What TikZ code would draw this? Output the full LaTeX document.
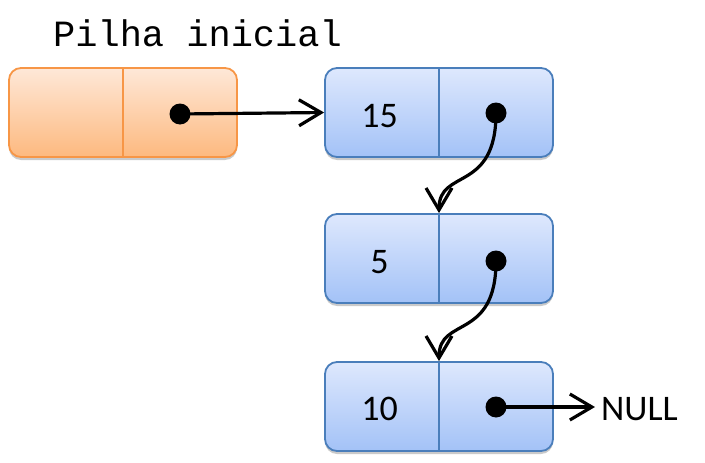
\documentclass[tikz,border=0pt]{standalone}
\usepackage{fontspec}
\setmonofont{Liberation Mono}
\newfontfamily\calib{Carlito}
\usetikzlibrary{arrows.meta,shadows}
\definecolor{orborder}{HTML}{F79646}
\definecolor{ortop}{HTML}{FEE8D8}
\definecolor{orbot}{HTML}{FDB97F}
\definecolor{blborder}{HTML}{4A7EBB}
\definecolor{bltop}{HTML}{DEE8FD}
\definecolor{blbot}{HTML}{A3C2F7}
\tikzset{
  cell/.style={rectangle, rounded corners=12pt, minimum width=228pt, minimum height=89pt, line width=1.8pt,
    drop shadow={shadow xshift=0pt, shadow yshift=-3pt, opacity=0.35, fill=black!60}},
  orcell/.style={cell, draw=orborder, top color=ortop, bottom color=orbot},
  blcell/.style={cell, draw=blborder, top color=bltop, bottom color=blbot},
  dot/.style={circle, fill=black, inner sep=0pt, minimum size=21pt},
  link/.style={line width=3.2pt, -{Straight Barb[length=22pt,width=26pt,line width=3.2pt]}},
  val/.style={font=\calib\fontsize{36}{40}\selectfont, anchor=base, inner sep=0pt},
}
\begin{document}
\begin{tikzpicture}[x=1pt,y=-1pt]
\useasboundingbox (0,0) rectangle (705,463);
\node[font=\ttfamily\fontsize{37}{40}\selectfont, anchor=base, inner sep=0pt] (title) at (197.5,46) {Pilha inicial};
\node[orcell] (b0) at (123,112.5) {};
\node[blcell] (b1) at (439,112.5) {};
\node[blcell] (b2) at (439,258.5) {};
\node[blcell] (b3) at (439,406.5) {};
\draw[orborder, line width=1.8pt] (b0.north) -- (b0.south);
\foreach \b in {b1,b2,b3} \draw[blborder, line width=1.8pt] (\b.north) -- (\b.south);
\node[val] (v1) at (379.5,127) {15};
\node[val] (v2) at (379.5,273) {5};
\node[val] (v3) at (379.5,420) {10};
\node[dot] (d0) at (180,114) {};
\node[dot] (d1) at (496,113) {};
\node[dot] (d2) at (496,261) {};
\node[dot] (d3) at (496,407) {};
\node[val, anchor=base west] (null) at (601,420) {NULL};
\draw[link] (d0.center) -- (b1.west);
\draw[link] (d1.center) .. controls +(0,80) and +(0,-45) .. (b2.north);
\draw[link] (d2.center) .. controls +(0,80) and +(0,-45) .. (b3.north);
\draw[link] (d3.center) -- (595,407) coordinate (nt);
\end{tikzpicture}
\end{document}
